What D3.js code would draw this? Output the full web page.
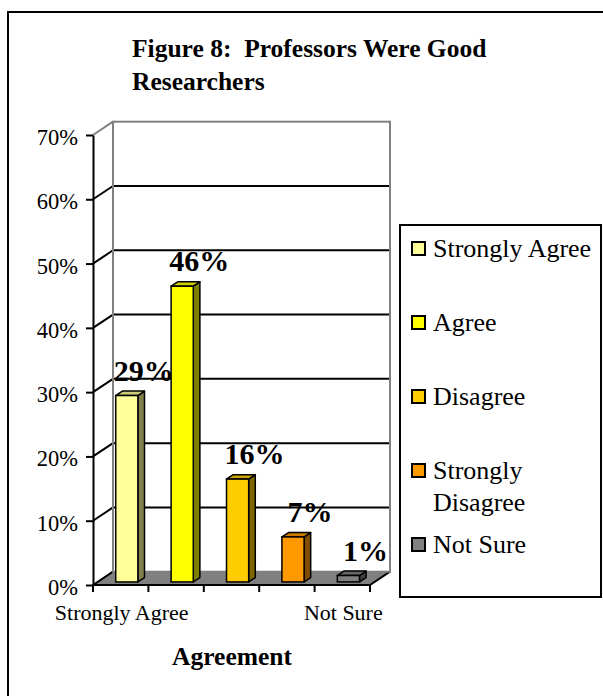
<!DOCTYPE html>
<html>
<head>
<meta charset="utf-8">
<script src="https://cdn.jsdelivr.net/npm/d3@7"></script>
<style>
  body { margin: 0; background: #fff; }
  text { font-family: "Liberation Serif", "Times New Roman", serif; fill: #000; }
</style>
</head>
<body>
<svg id="chart" width="603" height="696"></svg>
<script>
// chart data
var categories = ["Strongly Agree", "Agree", "Disagree", "Strongly Disagree", "Not Sure"];
var values = [29, 46, 16, 7, 1];
var yTicks = [0, 10, 20, 30, 40, 50, 60, 70];
var axisLabels = ["Strongly Agree", "Not Sure"];
var colors = ["#FFFF99", "#FFFF00", "#FFCC00", "#FF9900", "#808080"];

var svg = d3.select("#chart");

// depth of the 3d box
var DX = 20, DY = -13.3;
var t0 = 0.23, t1 = 0.56;

var x = d3.scaleBand().domain(categories).range([93, 370]).paddingInner(0.6).paddingOuter(0.3);
var y = d3.scaleLinear().domain([0, 70]).range([585, 135]);

var shade = function(c, k) {
  var r = d3.rgb(c);
  return d3.rgb(r.r * k, r.g * k, r.b * k).formatHex();
};

// outer frame
svg.append("rect").attr("x", 8).attr("y", 12).attr("width", 700).attr("height", 800)
  .attr("fill", "none").attr("stroke", "#000").attr("stroke-width", 2);

// title
var title = svg.append("text").attr("x", 132).attr("y", 57)
  .attr("font-size", 25.5).attr("font-weight", "bold").style("white-space", "pre");
title.append("tspan").text("Figure 8:  Professors Were Good");
title.append("tspan").attr("x", 132).attr("dy", 33).text("Researchers");

// floor
var x0 = 93, x1 = 370;
svg.append("path")
  .attr("d", "M" + x0 + "," + y(0) + "L" + x1 + "," + y(0) + "L" + (x1 + DX) + "," + (y(0) + DY) + "L" + (x0 + DX) + "," + (y(0) + DY) + "Z")
  .attr("fill", "#808080").attr("stroke", "none");
svg.append("line").attr("x1", x1).attr("y1", y(0)).attr("x2", x1 + DX).attr("y2", y(0) + DY)
  .attr("stroke", "#000").attr("stroke-width", 2);

// back wall gridlines
svg.append("g").selectAll("line").data(yTicks.filter(function(d) { return d > 0 && d < 70; }))
  .enter().append("line")
  .attr("x1", x0 + DX).attr("x2", x1 + DX)
  .attr("y1", function(d) { return y(d) + DY; }).attr("y2", function(d) { return y(d) + DY; })
  .attr("stroke", "#000").attr("stroke-width", 2);

// left wall diagonals
svg.append("g").selectAll("line").data(yTicks)
  .enter().append("line")
  .attr("x1", x0).attr("x2", x0 + DX)
  .attr("y1", function(d) { return y(d); }).attr("y2", function(d) { return y(d) + DY; })
  .attr("stroke", function(d) { return d == 70 ? "#808080" : "#000"; }).attr("stroke-width", 2);

// back wall border
svg.append("rect").attr("x", x0 + DX).attr("y", y(70) + DY)
  .attr("width", x1 - x0).attr("height", y(0) - y(70))
  .attr("fill", "none").attr("stroke", "#808080").attr("stroke-width", 2);

// y axis
var yAxis = svg.append("g").attr("transform", "translate(" + x0 + ",0)")
  .call(d3.axisLeft(y).tickValues(yTicks).tickFormat(function(d) { return d + "%"; })
    .tickSize(7).tickSizeOuter(0).tickPadding(8));
yAxis.select(".domain").attr("stroke", "#000").attr("stroke-width", 2);
yAxis.selectAll(".tick line").attr("stroke", "#000").attr("stroke-width", 2);
yAxis.selectAll(".tick text").attr("font-size", 22.5).attr("font-family", "Liberation Serif, serif")
  .attr("fill", "#000").attr("dy", "0.42em");

// x axis
svg.append("line").attr("x1", x0).attr("x2", x1).attr("y1", y(0)).attr("y2", y(0))
  .attr("stroke", "#000").attr("stroke-width", 2);
var bounds = categories.map(function(c) { return x(c) - x.step() * x.paddingInner() / 2; });
bounds.push(x1);
svg.append("g").selectAll("line").data(bounds).enter().append("line")
  .attr("x1", function(d) { return d; }).attr("x2", function(d) { return d; })
  .attr("y1", y(0)).attr("y2", y(0) + 7)
  .attr("stroke", "#000").attr("stroke-width", 2);
svg.append("g").selectAll("text").data(axisLabels).enter().append("text")
  .attr("x", function(d) { return x(d) + x.bandwidth() / 2 + 1; })
  .attr("y", 620).attr("text-anchor", "middle").attr("font-size", 22)
  .text(function(d) { return d; });

svg.append("text").attr("x", 232).attr("y", 665).attr("text-anchor", "middle")
  .attr("font-size", 25.5).attr("font-weight", "bold").text("Agreement");

// 3d bars, each with its label
var barW = x.bandwidth();
categories.forEach(function(c, i) {
  var v = values[i];
  var bx = x(c) + 1.5 + DX * t0;
  var by0 = y(0) + DY * t0;
  var by1 = y(v) + DY * t0;
  var ddx = DX * (t1 - t0), ddy = DY * (t1 - t0);
  var g = svg.append("g");
  // side
  g.append("path")
    .attr("d", "M" + (bx + barW) + "," + by0 + "L" + (bx + barW + ddx) + "," + (by0 + ddy) +
      "L" + (bx + barW + ddx) + "," + (by1 + ddy) + "L" + (bx + barW) + "," + by1 + "Z")
    .attr("fill", shade(colors[i], 0.5)).attr("stroke", "#000").attr("stroke-width", 1.5).attr("stroke-linejoin", "round");
  // top
  g.append("path")
    .attr("d", "M" + bx + "," + by1 + "L" + (bx + barW) + "," + by1 + "L" + (bx + barW + ddx) + "," + (by1 + ddy) +
      "L" + (bx + ddx) + "," + (by1 + ddy) + "Z")
    .attr("fill", shade(colors[i], 0.8)).attr("stroke", "#000").attr("stroke-width", 1.5).attr("stroke-linejoin", "round");
  // front
  g.append("rect").attr("x", bx).attr("y", by1).attr("width", barW).attr("height", by0 - by1)
    .attr("fill", colors[i]).attr("stroke", "#000").attr("stroke-width", 1.5);
  // value label
  g.append("text").attr("x", bx + barW / 2 + 17).attr("y", by1 - 15)
    .attr("text-anchor", "middle").attr("font-size", 30).attr("font-weight", "bold")
    .text(v + "%");
});

// legend
var legend = svg.append("g");
legend.append("rect").attr("x", 400).attr("y", 225).attr("width", 201).attr("height", 372)
  .attr("fill", "#fff").attr("stroke", "#000").attr("stroke-width", 2);
var legendY = d3.scalePoint().domain(categories).range([257, 553]);
var items = legend.selectAll(".item").data(categories).enter().append("g").attr("class", "item")
  .attr("transform", function(d) { return "translate(0," + legendY(d) + ")"; });
items.append("rect").attr("x", 412).attr("y", -15).attr("width", 13).attr("height", 13)
  .attr("fill", function(d, i) { return colors[i]; }).attr("stroke", "#000").attr("stroke-width", 2);
items.append("text").attr("x", 433).attr("y", 0).attr("font-size", 26)
  .each(function(d) {
    var t = d3.select(this);
    if (d == "Strongly Disagree") {
      t.append("tspan").attr("x", 433).text("Strongly");
      t.append("tspan").attr("x", 433).attr("dy", 32).text("Disagree");
    } else {
      t.text(d);
    }
  });
</script>
</body>
</html>
